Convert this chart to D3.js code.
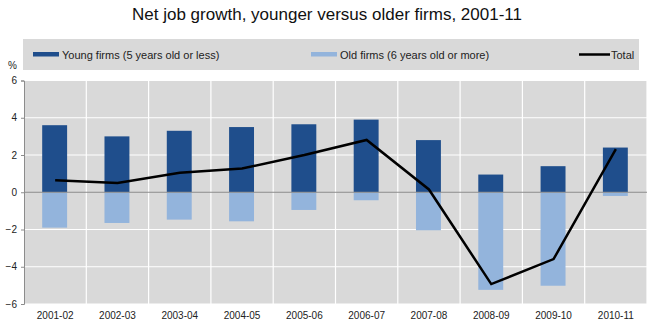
<!DOCTYPE html>
<html><head><meta charset="utf-8">
<script src="https://cdn.jsdelivr.net/npm/d3@7"></script>
<style>body{margin:0;background:#fff;}svg{display:block;font-family:Arial,"Liberation Sans",sans-serif;}</style>
</head><body>
<svg id="c" width="650" height="331"></svg>
<script>
const categories = ["2001-02","2002-03","2003-04","2004-05","2005-06","2006-07","2007-08","2008-09","2009-10","2010-11"];
const youngFirms = [3.6, 3.0, 3.3, 3.5, 3.65, 3.9, 2.8, 0.95, 1.4, 2.4];
const oldFirms = [-1.9, -1.65, -1.47, -1.56, -0.95, -0.43, -2.04, -5.24, -5.02, -0.2];
const total = [0.65, 0.5, 1.05, 1.27, 2.0, 2.81, 0.15, -4.93, -3.59, 2.31];
const yTicks = [-6, -4, -2, 0, 2, 4, 6];
const seriesNames = ["Young firms (5 years old or less)", "Old firms (6 years old or more)", "Total"];
const title = "Net job growth, younger versus older firms, 2001-11";

const svg = d3.select("#c");
const L = 24, R = 647, T = 80.5, B = 304;
const x = d3.scaleBand().domain(categories).range([L, R]);
const y = d3.scaleLinear().domain([-6, 6]).range([B, T]);

svg.append("text").attr("x", 327).attr("y", 20).attr("text-anchor", "middle")
  .attr("font-size", 17).attr("fill", "#111").text(title);

// legend
svg.append("rect").attr("x", 23).attr("y", 39).attr("width", 616).attr("height", 31).attr("fill", "#d9d9d9");
const leg = [
  {x: 33, name: seriesNames[0], color: "#1f4e8c", type: "bar"},
  {x: 311, name: seriesNames[1], color: "#93b4dc", type: "bar"},
  {x: 579, name: seriesNames[2], color: "#000", type: "line"}
];
leg.forEach(d => {
  if (d.type === "bar") {
    svg.append("rect").attr("x", d.x).attr("y", 52).attr("width", 26).attr("height", 4.5).attr("fill", d.color);
  } else {
    svg.append("line").attr("x1", d.x).attr("x2", d.x + 31).attr("y1", 54.5).attr("y2", 54.5)
      .attr("stroke", d.color).attr("stroke-width", 2.5);
  }
  svg.append("text").attr("x", d.x + (d.type === "bar" ? 29 : 32)).attr("y", 58.5)
    .attr("font-size", 11).attr("fill", "#222").text(d.name);
});

// plot background
svg.append("rect").attr("x", L).attr("y", T).attr("width", R - L).attr("height", B - T).attr("fill", "#d9d9d9");
// grid
svg.append("g").selectAll("line").data(yTicks.filter(t => t !== 0)).join("line")
  .attr("x1", L).attr("x2", R).attr("y1", d => y(d)).attr("y2", d => y(d))
  .attr("stroke", "#fff").attr("stroke-width", 1.2);
svg.append("g").selectAll("line").data(categories.slice(1)).join("line")
  .attr("x1", d => x(d)).attr("x2", d => x(d)).attr("y1", T).attr("y2", B)
  .attr("stroke", "#fff").attr("stroke-width", 1.2);
svg.append("line").attr("x1", R).attr("x2", R).attr("y1", T).attr("y2", B).attr("stroke", "#fff").attr("stroke-width", 1.2);

const bw = x.bandwidth() * 0.4;
svg.append("g").selectAll("rect").data(categories).join("rect")
  .attr("x", d => x(d) + x.bandwidth() / 2 - bw / 2 - 0.5)
  .attr("width", bw)
  .attr("y", (d, i) => y(youngFirms[i]))
  .attr("height", (d, i) => y(0) - y(youngFirms[i]))
  .attr("fill", "#1f4e8c");
svg.append("g").selectAll("rect").data(categories).join("rect")
  .attr("x", d => x(d) + x.bandwidth() / 2 - bw / 2 - 0.5)
  .attr("width", bw)
  .attr("y", y(0))
  .attr("height", (d, i) => y(oldFirms[i]) - y(0))
  .attr("fill", "#93b4dc");

// zero line
svg.append("line").attr("x1", L).attr("x2", R).attr("y1", y(0)).attr("y2", y(0)).attr("stroke", "#8c8c8c").attr("stroke-width", 1);

// y axis
const yAxis = d3.axisLeft(y).tickValues(yTicks).tickSize(3).tickPadding(4).tickFormat(d3.format("d"));
const ga = svg.append("g").attr("transform", `translate(${L},0)`).call(yAxis);
ga.select(".domain").attr("stroke", "#8c8c8c");
ga.selectAll(".tick line").attr("stroke", "#8c8c8c");
ga.selectAll(".tick text").attr("font-size", 10).attr("fill", "#222").attr("font-family", "Arial, Liberation Sans, sans-serif");

svg.append("text").attr("x", 8).attr("y", 69).attr("font-size", 10).attr("fill", "#222").text("%");

// x axis labels
const xAxis = d3.axisBottom(x).tickSize(0).tickPadding(8);
const gx = svg.append("g").attr("transform", `translate(0,${B})`).call(xAxis);
gx.select(".domain").remove();
gx.selectAll(".tick text").attr("font-size", 10).attr("fill", "#222").attr("font-family", "Arial, Liberation Sans, sans-serif");

// total line
const line = d3.line().x((d, i) => x(categories[i]) + x.bandwidth() / 2).y(d => y(d));
svg.append("path").datum(total).attr("d", line).attr("fill", "none").attr("stroke", "#000").attr("stroke-width", 2.5).attr("stroke-linejoin", "miter");
</script>
</body></html>
